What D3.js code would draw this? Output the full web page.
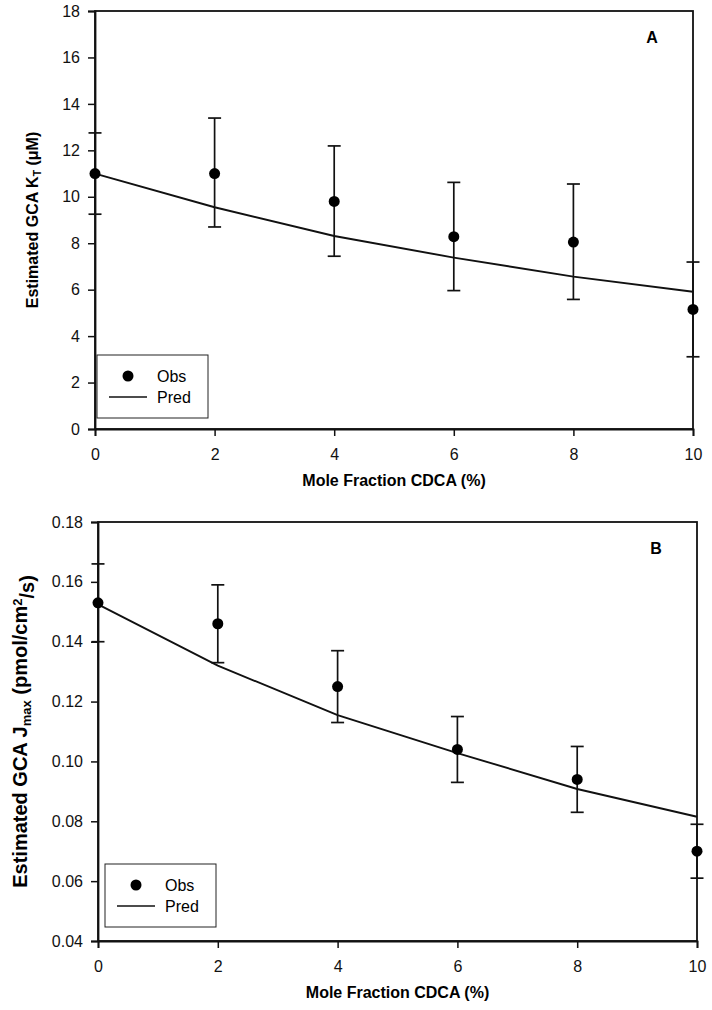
<!DOCTYPE html>
<html>
<head>
<meta charset="utf-8">
<script src="https://cdn.jsdelivr.net/npm/d3@7"></script>
<style>
body { margin: 0; background: #fff; }
svg { font-family: "Liberation Sans", Arial, sans-serif; }
</style>
</head>
<body>
<div id="chart"></div>
<script>
// mole fraction CDCA (%)
var molefrac = [0, 2, 4, 6, 8, 10];

// panel A - Kt (uM)
var ktObs = [11.0, 11.0, 9.8, 8.28, 8.05, 5.15];
var ktLow = [9.25, 8.7, 7.44, 5.96, 5.58, 3.11];
var ktHigh = [12.75, 13.39, 12.19, 10.62, 10.55, 7.19];
var ktPred = [11.0, 9.55, 8.31, 7.38, 6.56, 5.91];
var ktTicks = [0, 2, 4, 6, 8, 10, 12, 14, 16, 18];

// panel B - Jmax (pmol/cm2/s)
var jObs = [0.153, 0.146, 0.125, 0.104, 0.094, 0.070];
var jLow = [0.140, 0.133, 0.113, 0.093, 0.083, 0.061];
var jHigh = [0.166, 0.159, 0.137, 0.115, 0.105, 0.079];
var jPred = [0.1525, 0.132, 0.1155, 0.1028, 0.0908, 0.0815];
var jTicks = [0.04, 0.06, 0.08, 0.10, 0.12, 0.14, 0.16, 0.18];

var xTicks = [0, 2, 4, 6, 8, 10];

var svg = d3.select("#chart")
    .append("svg")
    .attr("width", 712)
    .attr("height", 1010);

function drawPanel(p) {
    var x = d3.scaleLinear().domain([0, 10]).range([p.left, p.right]);
    var y = d3.scaleLinear().domain(p.ydomain).range([p.bottom, p.top]);
    var g = svg.append("g");

    // frame
    g.append("rect")
        .attr("x", p.left).attr("y", p.top)
        .attr("width", p.right - p.left).attr("height", p.bottom - p.top)
        .attr("fill", "none").attr("stroke", "#111").attr("stroke-width", 1.8);

    // X axis
    var xa = g.append("g")
        .attr("transform", "translate(0," + p.bottom + ")")
        .call(d3.axisBottom(x).tickValues(xTicks).tickSizeOuter(0).tickSize(7).tickPadding(13).tickFormat(d3.format("d")));
    // Y axis
    var ya = g.append("g")
        .attr("transform", "translate(" + p.left + ",0)")
        .call(d3.axisLeft(y).tickValues(p.yticks).tickSizeOuter(0).tickSize(7).tickPadding(8).tickFormat(p.yfmt));
    [xa, ya].forEach(function(a) {
        a.select(".domain").attr("stroke", "#111").attr("stroke-width", 1.8);
        a.selectAll(".tick line").attr("stroke", "#111").attr("stroke-width", 1.5);
        a.selectAll(".tick text").attr("font-size", 16).attr("fill", "#111")
            .attr("font-family", "Liberation Sans, Arial, sans-serif");
    });

    // predicted line
    var line = d3.line()
        .x(function(d, i) { return x(molefrac[i]); })
        .y(function(d) { return y(d); });
    g.append("path")
        .datum(p.pred)
        .attr("d", line)
        .attr("fill", "none").attr("stroke", "#111").attr("stroke-width", 1.9);

    // error bars
    var eb = g.selectAll(".eb")
        .data(molefrac)
        .enter()
        .append("g");
    eb.append("line")
        .attr("x1", function(d) { return x(d); })
        .attr("x2", function(d) { return x(d); })
        .attr("y1", function(d, i) { return y(p.low[i]); })
        .attr("y2", function(d, i) { return y(p.high[i]); })
        .attr("stroke", "#111").attr("stroke-width", 1.7);
    [p.low, p.high].forEach(function(arr) {
        eb.append("line")
            .attr("x1", function(d) { return x(d) - 6.5; })
            .attr("x2", function(d) { return x(d) + 6.5; })
            .attr("y1", function(d, i) { return y(arr[i]); })
            .attr("y2", function(d, i) { return y(arr[i]); })
            .attr("stroke", "#111").attr("stroke-width", 1.7);
    });

    // observed points
    g.selectAll(".pt")
        .data(p.obs)
        .enter()
        .append("circle")
        .attr("cx", function(d, i) { return x(molefrac[i]); })
        .attr("cy", function(d) { return y(d); })
        .attr("r", 5.5)
        .attr("fill", "#000");

    // panel letter
    g.append("text")
        .attr("x", p.right - 41).attr("y", p.top + 32)
        .attr("font-size", 16).attr("font-weight", "bold")
        .attr("text-anchor", "middle")
        .text(p.letter);

    // x title
    g.append("text")
        .attr("x", (p.left + p.right) / 2)
        .attr("y", p.bottom + 57)
        .attr("font-size", 16).attr("font-weight", "bold")
        .attr("text-anchor", "middle")
        .text("Mole Fraction CDCA (%)");

    // y title
    var yt = g.append("text")
        .attr("transform", "translate(" + p.ytitleX + "," + (p.top + p.bottom) / 2 + ") rotate(-90)")
        .attr("font-size", p.ytitleSize).attr("font-weight", "bold")
        .attr("text-anchor", "middle");
    p.ytitle(yt);

    // legend
    var lg = g.append("g").attr("transform", "translate(" + p.legX + "," + p.legY + ")");
    lg.append("rect")
        .attr("x", 0).attr("y", 0).attr("width", 111).attr("height", 63)
        .attr("fill", "#fff").attr("stroke", "#222").attr("stroke-width", 1);
    lg.append("circle").attr("cx", 31).attr("cy", 21).attr("r", 5.5).attr("fill", "#000");
    lg.append("text").attr("x", 60).attr("y", 27).attr("font-size", 16).text("Obs");
    lg.append("line").attr("x1", 12).attr("x2", 50).attr("y1", 42).attr("y2", 42)
        .attr("stroke", "#111").attr("stroke-width", 1.6);
    lg.append("text").attr("x", 60).attr("y", 48).attr("font-size", 16).text("Pred");
}

drawPanel({
    left: 95, right: 693, top: 11, bottom: 429,
    ydomain: [0, 18], yticks: ktTicks, yfmt: d3.format("d"),
    obs: ktObs, low: ktLow, high: ktHigh, pred: ktPred,
    letter: "A", legX: 97, legY: 355,
    ytitleX: 38, ytitleSize: 16,
    ytitle: function(t) {
        t.append("tspan").text("Estimated GCA K");
        t.append("tspan").attr("dy", "0.3em").attr("font-size", "0.65em").text("T");
        t.append("tspan").attr("dy", "-0.2em").text(" (\u03bcM)");
    }
});

drawPanel({
    left: 98, right: 697, top: 522, bottom: 941,
    ydomain: [0.04, 0.18], yticks: jTicks, yfmt: d3.format(".2f"),
    obs: jObs, low: jLow, high: jHigh, pred: jPred,
    letter: "B", legX: 105, legY: 864,
    ytitleX: 27, ytitleSize: 20,
    ytitle: function(t) {
        t.append("tspan").text("Estimated GCA J");
        t.append("tspan").attr("dy", "0.3em").attr("font-size", "0.65em").text("max");
        t.append("tspan").attr("dy", "-0.2em").text(" (pmol/cm");
        t.append("tspan").attr("dy", "-0.4em").attr("font-size", "0.65em").text("2");
        t.append("tspan").attr("dy", "0.6em").text("/s)");
    }
});
</script>
</body>
</html>
